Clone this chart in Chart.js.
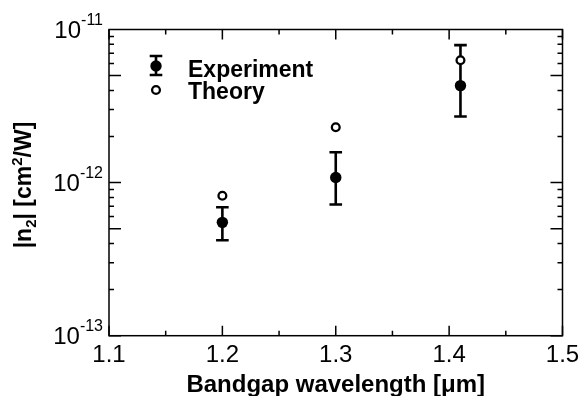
<!DOCTYPE html>
<html>
<head>
<meta charset="utf-8">
<script src="https://cdn.jsdelivr.net/npm/chart.js@4.4.0/dist/chart.umd.min.js"></script>
<style>
  html, body { margin: 0; padding: 0; background: #fff; }
</style>
</head>
<body>
<canvas id="chart" width="582" height="396"></canvas>
<script>
// measured nonlinear index vs bandgap wavelength
const wavelengths = [1.2, 1.3, 1.41];
const experiment = [5.5e-13, 1.08e-12, 4.3e-12];
const expLow = [4.2e-13, 7.2e-13, 2.7e-12];
const expHigh = [6.9e-13, 1.58e-12, 7.9e-12];
const theory = [8.2e-13, 2.3e-12, 6.3e-12];

const xTicks = [1.1, 1.2, 1.3, 1.4, 1.5];
const xMinorTicks = [1.15, 1.25, 1.35, 1.45];
const yDecades = [-13, -12, -11];

const FONT = '"Liberation Sans", Arial, sans-serif';

function drawErrorBar(ctx, x, yLo, yHi, cap) {
  ctx.beginPath();
  ctx.moveTo(x, yLo); ctx.lineTo(x, yHi);
  ctx.moveTo(x - cap, yLo); ctx.lineTo(x + cap, yLo);
  ctx.moveTo(x - cap, yHi); ctx.lineTo(x + cap, yHi);
  ctx.stroke();
}

const errorBars = {
  id: 'errorBars',
  beforeDatasetsDraw(chart) {
    const { ctx, scales: { x, y } } = chart;
    ctx.save();
    ctx.strokeStyle = '#000';
    ctx.lineWidth = 2.6;
    wavelengths.forEach((w, i) => {
      drawErrorBar(ctx, x.getPixelForValue(w), y.getPixelForValue(expLow[i]), y.getPixelForValue(expHigh[i]), 6.3);
    });
    ctx.restore();
  }
};

const frame = {
  id: 'frame',
  afterDraw(chart) {
    const { ctx, chartArea: a, scales: { x, y } } = chart;
    ctx.save();
    ctx.strokeStyle = '#000';
    ctx.lineWidth = 1.5;
    ctx.strokeRect(a.left, a.top, a.right - a.left, a.bottom - a.top);

    // inward ticks, bottom + top
    ctx.beginPath();
    xTicks.forEach(v => {
      const px = x.getPixelForValue(v);
      ctx.moveTo(px, a.bottom); ctx.lineTo(px, a.bottom - 10);
      ctx.moveTo(px, a.top); ctx.lineTo(px, a.top + 10);
    });
    xMinorTicks.forEach(v => {
      const px = x.getPixelForValue(v);
      ctx.moveTo(px, a.bottom); ctx.lineTo(px, a.bottom - 5);
      ctx.moveTo(px, a.top); ctx.lineTo(px, a.top + 5);
    });
    // log ticks, left + right
    yDecades.slice(0, -1).forEach(d => {
      for (let m = 1; m <= 9; m++) {
        const py = y.getPixelForValue(m * Math.pow(10, d));
        const len = (m === 1 || m === 5) ? 12 : 5;
        ctx.moveTo(a.left, py); ctx.lineTo(a.left + len, py);
        ctx.moveTo(a.right, py); ctx.lineTo(a.right - len, py);
      }
    });
    ctx.stroke();

    ctx.fillStyle = '#000';
    // x tick labels
    ctx.font = '24px ' + FONT;
    ctx.textAlign = 'center';
    ctx.textBaseline = 'alphabetic';
    xTicks.forEach(v => {
      ctx.fillText(v.toFixed(1), x.getPixelForValue(v), a.bottom + 26);
    });

    // y tick labels: 10 with raised exponent
    yDecades.forEach(d => {
      const py = y.getPixelForValue(Math.pow(10, d));
      const exp = String(d);
      ctx.font = '16px ' + FONT;
      ctx.textAlign = 'right';
      const right = a.left - 6;
      ctx.fillText(exp, right, py - 4.5);
      const w = ctx.measureText(exp).width;
      ctx.font = '24px ' + FONT;
      ctx.fillText('10', right - w, py + 8.5);
    });

    // x title
    ctx.font = 'bold 24px ' + FONT;
    ctx.textAlign = 'center';
    ctx.fillText('Bandgap wavelength [\u03bcm]', (a.left + a.right) / 2, 392);

    // y title, rotated, with subscript and superscript
    ctx.save();
    ctx.translate(31, 185);
    ctx.rotate(-Math.PI / 2);
    const parts = [
      ['|n', 'bold 23px', 0],
      ['2', 'bold 15px', 5],
      ['| [cm', 'bold 23px', 0],
      ['2', 'bold 15px', -9],
      ['/W]', 'bold 23px', 0]
    ];
    let total = 0;
    parts.forEach(p => { ctx.font = p[1] + ' ' + FONT; total += ctx.measureText(p[0]).width; });
    let cx = -total / 2;
    ctx.textAlign = 'left';
    parts.forEach(p => {
      ctx.font = p[1] + ' ' + FONT;
      ctx.fillText(p[0], cx, p[2]);
      cx += ctx.measureText(p[0]).width;
    });
    ctx.restore();

    // legend
    ctx.lineWidth = 2.6;
    drawErrorBar(ctx, 156, 56, 75, 6.3);
    ctx.beginPath();
    ctx.arc(156, 66, 5.7, 0, Math.PI * 2);
    ctx.fill();
    ctx.lineWidth = 2.3;
    ctx.beginPath();
    ctx.arc(156, 90, 3.9, 0, Math.PI * 2);
    ctx.fillStyle = '#fff';
    ctx.fill();
    ctx.stroke();
    ctx.fillStyle = '#000';
    ctx.font = 'bold 23px ' + FONT;
    ctx.textAlign = 'left';
    ctx.fillText('Experiment', 188, 76.5);
    ctx.fillText('Theory', 188, 98.5);

    ctx.restore();
  }
};

new Chart(document.getElementById('chart'), {
  type: 'scatter',
  data: {
    datasets: [
      {
        label: 'Experiment',
        data: wavelengths.map((w, i) => ({ x: w, y: experiment[i] })),
        pointRadius: 5.7,
        pointBackgroundColor: '#000',
        pointBorderColor: '#000',
        pointBorderWidth: 0
      },
      {
        label: 'Theory',
        data: wavelengths.map((w, i) => ({ x: w, y: theory[i] })),
        pointRadius: 3.9,
        pointBackgroundColor: '#fff',
        pointBorderColor: '#000',
        pointBorderWidth: 2.3
      }
    ]
  },
  options: {
    responsive: false,
    animation: false,
    devicePixelRatio: 1,
    layout: { padding: { left: 109, right: 19.5, top: 29.5, bottom: 60.3 } },
    scales: {
      x: { type: 'linear', min: 1.1, max: 1.5, display: false },
      y: { type: 'logarithmic', min: 1e-13, max: 1e-11, display: false }
    },
    plugins: {
      legend: { display: false },
      tooltip: { enabled: false }
    }
  },
  plugins: [errorBars, frame]
});
</script>
</body>
</html>
